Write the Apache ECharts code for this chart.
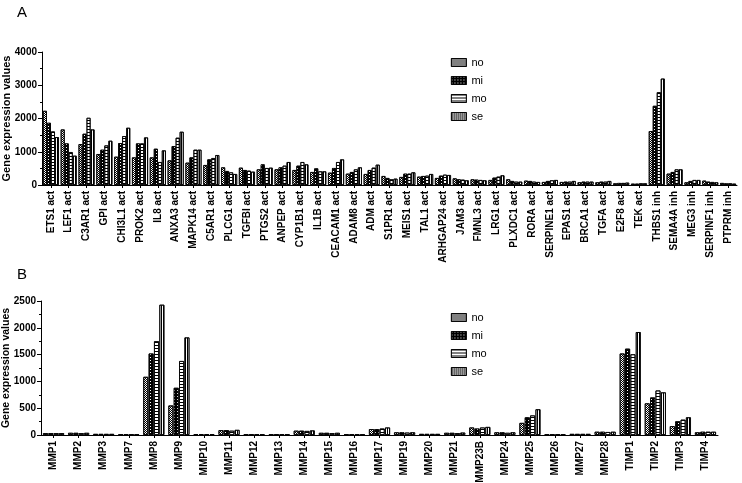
<!DOCTYPE html>
<html>
<head>
<meta charset="utf-8">
<script src="https://cdn.jsdelivr.net/npm/echarts@6/dist/echarts.min.js"></script>
<style>
html,body{margin:0;padding:0;background:#fff;}
#c{width:742px;height:483px;}
</style>
</head>
<body>
<div id="c"></div>
<script>
const seriesNames = ['no', 'mi', 'mo', 'se'];

const topCategories = ['ETS1 act','LEF1 act','C3AR1 act','GPI act','CHI3L1 act','PROK2 act','IL8 act','ANXA3 act','MAPK14 act','C5AR1 act','PLCG1 act','TGFBI act','PTGS2 act','ANPEP act','CYP1B1 act','IL1B act','CEACAM1 act','ADAM8 act','ADM act','S1PR1 act','MEIS1 act','TAL1 act','ARHGAP24 act','JAM3 act','FMNL3 act','LRG1 act','PLXDC1 act','RORA act','SERPINE1 act','EPAS1 act','BRCA1 act','TGFA act','E2F8 act','TEK act','THBS1 inh','SEMA4A inh','MEG3 inh','SERPINF1 inh','PTPRM inh'];
const topNo = [2230,1670,1230,930,850,830,830,740,670,600,530,520,470,470,450,390,370,340,330,270,240,250,210,200,170,150,170,130,90,90,80,80,50,40,1620,340,80,130,60];
const topMi = [1870,1250,1540,1060,1260,1250,1090,1170,830,770,420,450,620,530,580,500,510,390,450,210,340,270,280,170,160,220,120,120,120,100,100,100,60,40,2380,390,120,100,50];
const topMo = [1610,990,2020,1190,1470,1250,690,1420,1060,810,380,430,510,580,690,410,690,470,520,170,340,280,310,160,150,250,100,100,140,100,100,100,60,50,2790,470,150,90,50];
const topSe = [1440,880,1670,1330,1720,1430,1040,1600,1060,900,330,400,520,690,620,410,770,530,610,190,380,330,300,140,140,290,100,90,150,120,100,120,70,50,3200,470,150,80,40];
const topTicks = [0, 1000, 2000, 3000, 4000];

const botCategories = ['MMP1','MMP2','MMP3','MMP7','MMP8','MMP9','MMP10','MMP11','MMP12','MMP13','MMP14','MMP15','MMP16','MMP17','MMP19','MMP20','MMP21','MMP23B','MMP24','MMP25','MMP26','MMP27','MMP28','TIMP1','TIMP2','TIMP3','TIMP4'];
const botNo = [35,40,20,10,1085,550,15,90,10,10,80,40,10,110,50,20,40,140,50,225,10,20,60,1520,590,165,50];
const botMi = [35,40,20,10,1520,880,15,90,10,10,80,40,10,110,50,20,40,120,50,330,10,20,60,1610,700,255,60];
const botMo = [35,35,20,10,1750,1380,15,80,10,10,75,35,10,120,45,20,35,140,40,365,10,20,55,1505,830,285,60];
const botSe = [35,40,20,10,2430,1820,15,95,10,10,85,40,10,140,50,20,45,150,50,480,10,20,60,1920,795,330,60];
const botTicks = [0, 500, 1000, 1500, 2000, 2500];

const FONT = 'Liberation Sans, Arial, sans-serif';

const decals = {
  no: { symbol: 'rect', color: '#000', dashArrayX: [[1,1],[0,1,1,0]], dashArrayY: [1,0], symbolSize: 1, symbolKeepAspect: false },
  mi: { symbol: 'rect', color: '#ffffff', dashArrayX: [1,2], dashArrayY: [1,2], symbolSize: 1, symbolKeepAspect: false },
  mo: { symbol: 'rect', color: '#000', dashArrayX: [[1,0]], dashArrayY: [1,2], symbolSize: 1, symbolKeepAspect: false },
  se: { symbol: 'rect', color: '#000', dashArrayX: [[1,0]], dashArrayY: [1,1], symbolSize: 1, symbolKeepAspect: false, rotation: Math.PI / 2 }
};
const fills = { no: '#ffffff', mi: '#000000', mo: '#ffffff', se: '#ffffff' };
function styleOf(n) {
  return { color: fills[n], borderColor: '#000', borderWidth: 0.8, decal: decals[n] };
}

function yAxisCfg(gridIndex, max, interval, nameSize, nameGap) {
  return {
    type: 'value', gridIndex: gridIndex, min: 0, max: max, interval: interval,
    name: 'Gene expression values', nameLocation: 'middle', nameGap: nameGap, nameRotate: 90,
    nameMoveOverlap: false,
    nameTextStyle: { fontFamily: FONT, fontWeight: 'bold', fontSize: nameSize, color: '#000' },
    axisLine: { show: true, lineStyle: { color: '#000', width: 1 } },
    axisTick: { show: true, length: 4, lineStyle: { color: '#000' } },
    minorTick: { show: true, splitNumber: 2, length: 2, lineStyle: { color: '#000' } },
    splitLine: { show: false },
    axisLabel: { fontFamily: FONT, fontWeight: 'bold', fontSize: 10, color: '#000', margin: 5,
      formatter: function (v) { return String(v); } }
  };
}
function xAxisCfg(gridIndex, cats) {
  return {
    type: 'category', gridIndex: gridIndex, data: cats, boundaryGap: true,
    axisLine: { show: true, lineStyle: { color: '#000', width: 1 } },
    axisTick: { show: true, alignWithLabel: true, length: 3, lineStyle: { color: '#000' } },
    axisLabel: { rotate: 90, interval: 0, fontFamily: FONT, fontWeight: 'bold', fontSize: 10, color: '#000', margin: 6 }
  };
}

const topData = { no: topNo, mi: topMi, mo: topMo, se: topSe };
const botData = { no: botNo, mi: botMi, mo: botMo, se: botSe };

const series = [];
seriesNames.forEach(function (n) {
  series.push({ name: n, type: 'bar', xAxisIndex: 0, yAxisIndex: 0, data: topData[n],
    itemStyle: styleOf(n), barGap: '0%', barCategoryGap: '10%', animation: false });
});
seriesNames.forEach(function (n) {
  series.push({ name: n, type: 'bar', xAxisIndex: 1, yAxisIndex: 1, data: botData[n],
    itemStyle: styleOf(n), barGap: '8%', barCategoryGap: '16%', animation: false });
});

function legendCfg(top) {
  return {
    orient: 'vertical', left: 446, top: top, itemWidth: 15, itemHeight: 8, itemGap: 7,
    icon: 'rect', selectedMode: false,
    data: seriesNames.map(function (n) {
      return { name: n, icon: 'rect', itemStyle: styleOf(n) };
    }),
    textStyle: { fontFamily: FONT, fontSize: 11, color: '#000', padding: [0, 0, 0, 0] }
  };
}

const chart = echarts.init(document.getElementById('c'), null, { renderer: 'canvas' });
chart.setOption({
  animation: false,
  backgroundColor: '#ffffff',
  title: [
    { text: 'A', left: 12, top: 0, textStyle: { fontFamily: FONT, fontSize: 15, fontWeight: 'normal', color: '#000' } },
    { text: 'B', left: 12, top: 262, textStyle: { fontFamily: FONT, fontSize: 15, fontWeight: 'normal', color: '#000' } }
  ],
  legend: [legendCfg(52), legendCfg(307)],
  grid: [
    { left: 42, right: 5, top: 52, bottom: 298, containLabel: false, outerBoundsMode: 'none' },
    { left: 41, right: 24, top: 301, bottom: 48, containLabel: false, outerBoundsMode: 'none' }
  ],
  xAxis: [xAxisCfg(0, topCategories), xAxisCfg(1, botCategories)],
  yAxis: [yAxisCfg(0, topTicks[topTicks.length - 1], topTicks[1] - topTicks[0], 11, 30),
          yAxisCfg(1, botTicks[botTicks.length - 1], botTicks[1] - botTicks[0], 10.5, 29)],
  series: series
});
</script>
</body>
</html>
